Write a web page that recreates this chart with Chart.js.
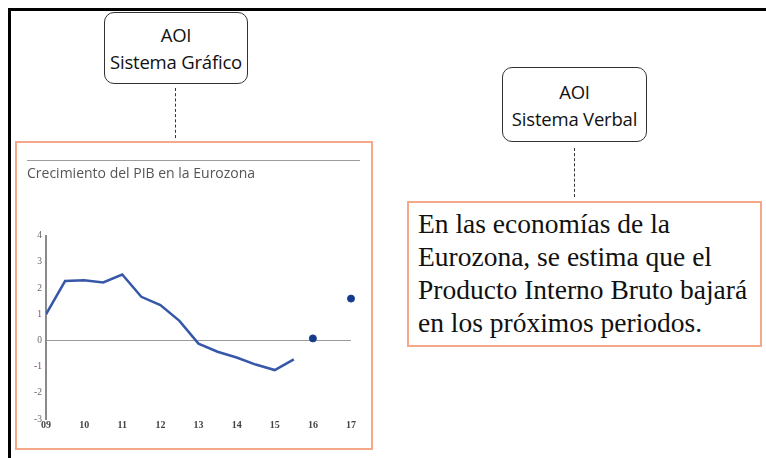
<!DOCTYPE html>
<html>
<head>
<meta charset="utf-8">
<script src="https://cdn.jsdelivr.net/npm/chart.js@4"></script>
<style>
  body { margin: 0; width: 766px; height: 458px; background: #fff; position: relative; overflow: hidden; }
  .frame { position: absolute; left: 8px; top: 8px; width: 800px; height: 500px; border-top: 3px solid #000; border-left: 3px solid #000; }
  .aoi { position: absolute; border: 1.5px solid #333; border-radius: 10px; box-sizing: border-box;
         font-family: 'Open Sans', sans-serif; font-size: 18.5px; color: #111; text-align: center;
         display: flex; flex-direction: column; justify-content: center; line-height: 27px; letter-spacing: -0.2px; }
  .dash { position: absolute; width: 0; border-left: 1.5px dashed #333; }
  .orange { position: absolute; border: 2px solid #f6a98a; box-sizing: border-box; }
  .verbal { font-family: 'Liberation Serif', 'Times New Roman', serif; font-size: 27.5px; color: #111;
            line-height: 33px; padding: 4px 0 0 9px; white-space: nowrap; }
  .rule { position: absolute; left: 27px; top: 160px; width: 333px; height: 0; border-top: 1.5px solid #9c9c9c; }
  #wrap { position: absolute; left: 17px; top: 143px; }
</style>
</head>
<body>
<div class="frame"></div>

<div class="aoi" style="left:104px; top:12px; width:144px; height:72px;">AOI<br>Sistema Gráfico</div>
<div class="dash" style="left:175px; top:88px; height:50px;"></div>

<div class="aoi" style="left:502px; top:67px; width:145px; height:75px;">AOI<br>Sistema Verbal</div>
<div class="dash" style="left:574px; top:148px; height:49px;"></div>

<div class="orange" style="left:15px; top:141px; width:358px; height:309px;"></div>
<div class="rule"></div>
<div id="wrap"><canvas id="gdpChart" width="354" height="305"></canvas></div>

<div class="orange verbal" style="left:407px; top:201px; width:355px; height:146px;">
En las economías de la<br>Eurozona, se estima que el<br>Producto Interno Bruto bajará<br>en los próximos periodos.
</div>

<script>
// Semiannual observations, years as two-digit numbers (09 = 2009)
const periods = [9, 9.5, 10, 10.5, 11, 11.5, 12, 12.5, 13, 13.5, 14, 14.5, 15, 15.5];
const gdpGrowth = [1.0, 2.27, 2.3, 2.22, 2.52, 1.67, 1.35, 0.75, -0.12, -0.43, -0.65, -0.92, -1.13, -0.72];

// Forecast points
const forecastYears = [16, 17];
const forecastGrowth = [0.08, 1.6];

const yearLabels = ['09', '10', '11', '12', '13', '14', '15', '16', '17'];

const serif = 'Liberation Serif, Times New Roman, serif';

const initChart = () => {
    const ctx = document.getElementById('gdpChart').getContext('2d');
    new Chart(ctx, {
        type: 'line',
        data: {
            datasets: [
                {
                    data: periods.map((p, i) => ({ x: p, y: gdpGrowth[i] })),
                    borderColor: '#3757a8',
                    borderWidth: 2.5,
                    pointRadius: 0,
                    tension: 0,
                },
                {
                    type: 'scatter',
                    data: forecastYears.map((p, i) => ({ x: p, y: forecastGrowth[i] })),
                    backgroundColor: '#173a8c',
                    borderColor: '#173a8c',
                    pointRadius: 3.5,
                    clip: false,
                }
            ]
        },
        options: {
            responsive: false,
            animation: false,
            layout: { padding: { left: 10, right: 20, top: 0, bottom: 9 } },
            plugins: {
                legend: { display: false },
                tooltip: { enabled: false },
                title: {
                    display: true,
                    text: 'Crecimiento del PIB en la Eurozona',
                    align: 'start',
                    color: '#555',
                    font: { family: 'Open Sans', size: 14, weight: 'normal' },
                    padding: { top: 23, bottom: 53 }
                }
            },
            scales: {
                x: {
                    type: 'linear',
                    min: 9,
                    max: 17,
                    ticks: {
                        stepSize: 1,
                        color: '#444',
                        padding: 0,
                        font: { family: serif, size: 10, weight: 'bold' },
                        callback: (v) => yearLabels[v - 9]
                    },
                    grid: { display: false, drawTicks: false },
                    border: { display: false },
                    afterFit: (s) => { s.height = 20; }
                },
                y: {
                    min: -3,
                    max: 4,
                    ticks: {
                        stepSize: 1,
                        padding: 4,
                        color: (c) => Math.abs(c.tick.value) === 1 ? '#7a4a78' : '#666',
                        font: { family: serif, size: 9.5 }
                    },
                    grid: {
                        drawTicks: false,
                        color: (c) => c.tick.value === 0 ? '#9a9a9a' : 'transparent',
                        lineWidth: 1
                    },
                    border: { color: '#8a8a8a', width: 2 },
                    afterFit: (s) => { s.width = 19; }
                }
            }
        }
    });
};

document.addEventListener('DOMContentLoaded', initChart);
</script>
</body>
</html>
